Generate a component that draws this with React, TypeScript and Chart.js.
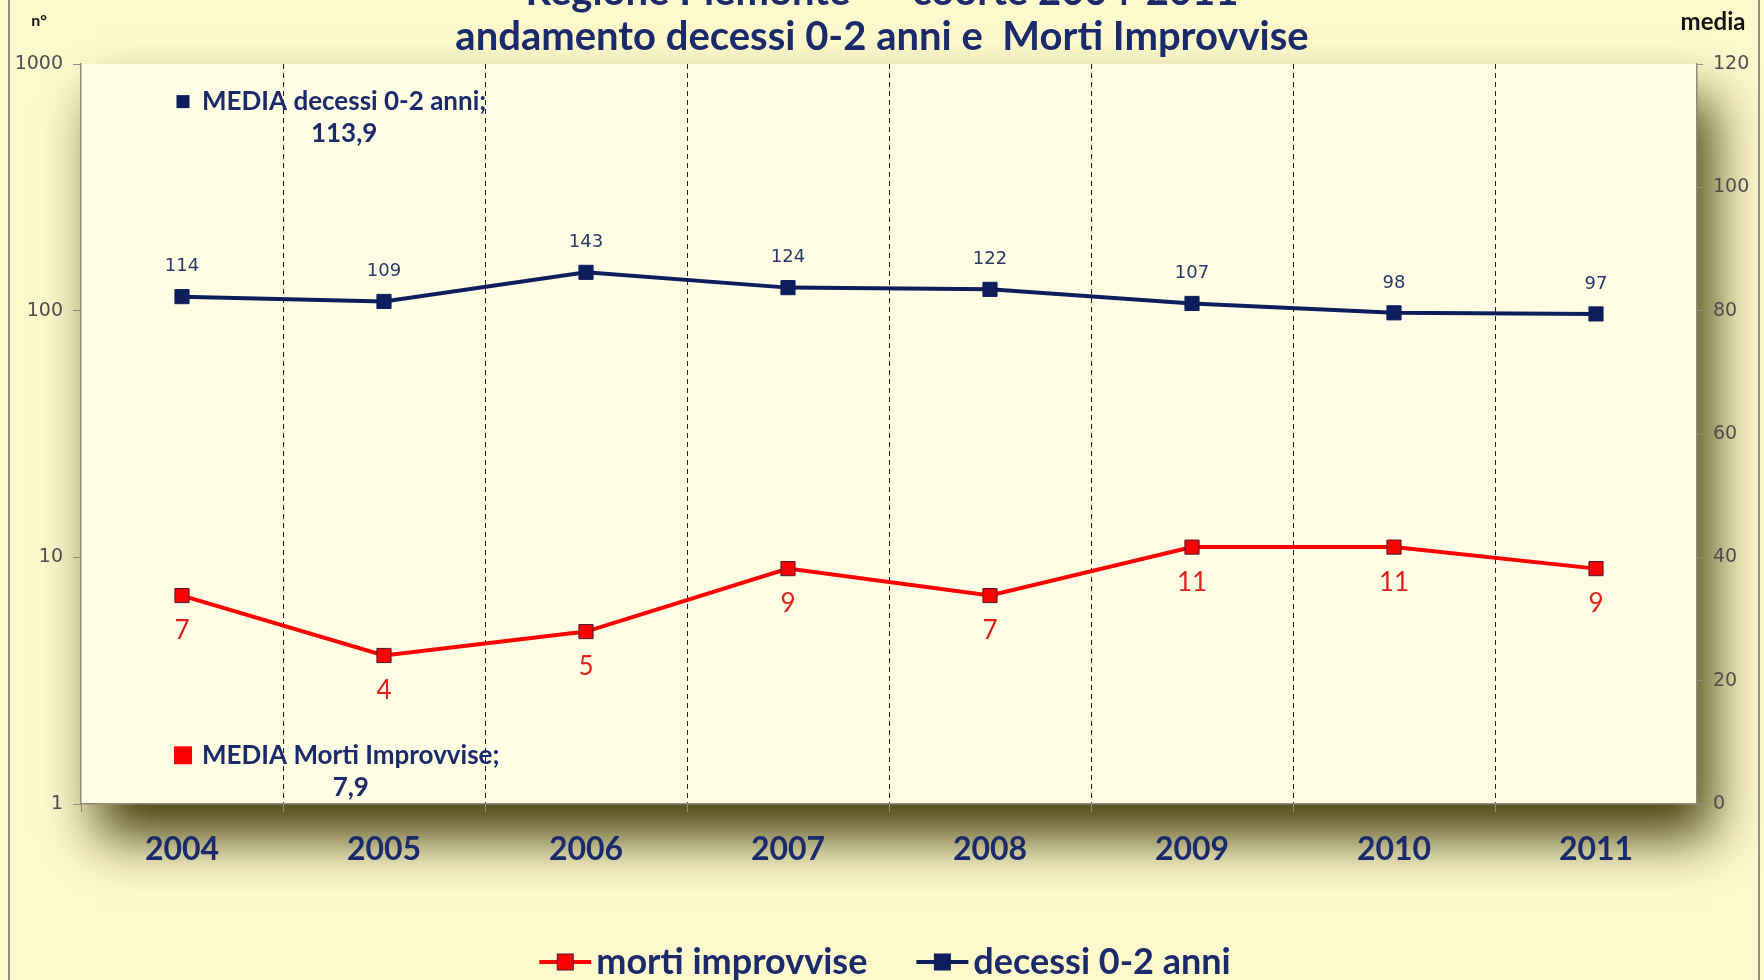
import React, { useEffect, useRef } from 'react';
import { Chart, registerables } from 'chart.js';

Chart.register(...registerables);

// ---------- data ----------
const YEARS = ['2004', '2005', '2006', '2007', '2008', '2009', '2010', '2011'];
const MORTI_IMPROVVISE = [7, 4, 5, 9, 7, 11, 11, 9];
const DECESSI_0_2 = [114, 109, 143, 124, 122, 107, 98, 97];
const MEDIA_DECESSI = [113.9];
const MEDIA_MORTI = [7.9];
const LEFT_TICKS = [1, 10, 100, 1000];
const RIGHT_MIN = 0;
const RIGHT_MAX = 120;
const RIGHT_STEP = 20;
const TITLE_LINES = ['Regione Piemonte  \u2013  coorte 2004-2011', 'andamento decessi 0-2 anni e  Morti Improvvise'];
const LABEL_MORTI = 'morti improvvise';
const LABEL_DECESSI = 'decessi 0-2 anni';
const LABEL_MEDIA_DECESSI = 'MEDIA decessi 0-2 anni;';
const LABEL_MEDIA_MORTI = 'MEDIA Morti Improvvise;';
const LEFT_AXIS_TITLE = 'n\u00b0';
const RIGHT_AXIS_TITLE = 'media';

// ---------- style ----------
const W = 1764;
const H = 980;
const NAVY = '#0D1E5C';
const TEXT_NAVY = '#1A2A6A';
const RED = '#FF0000';
const BG_OUTER = '#FEF9CD';
const BG_PLOT = '#FFFEE4';
const AXIS_GRAY = '#8E8C7A';
const TICK_GRAY = '#4E4E4E';
const FONT = 'Lato, "Open Sans", sans-serif';

function fmtIt(v: number): string {
  return String(v).replace('.', ',');
}

export default function App() {
  const ref = useRef<HTMLCanvasElement>(null);

  useEffect(() => {
    const canvas = ref.current;
    if (!canvas) return;

    const backgroundPlugin = {
      id: 'backgroundPlugin',
      beforeDraw(chart: any) {
        const { ctx, chartArea: a } = chart;
        ctx.save();
        ctx.fillStyle = BG_OUTER;
        ctx.fillRect(0, 0, chart.width, chart.height);
        // soft shadow of plot area
        ctx.shadowColor = 'rgba(72,66,18,1)';
        ctx.shadowBlur = 50;
        ctx.shadowOffsetX = 16;
        ctx.shadowOffsetY = 34;
        ctx.fillStyle = BG_PLOT;
        ctx.fillRect(a.left, a.top, a.right - a.left, a.bottom - a.top);
        ctx.restore();

        ctx.save();
        ctx.fillStyle = BG_PLOT;
        ctx.fillRect(a.left, a.top, a.right - a.left, a.bottom - a.top);
        // outer frame lines
        ctx.strokeStyle = '#8F8E86';
        ctx.lineWidth = 2;
        ctx.beginPath();
        ctx.moveTo(9, 0);
        ctx.lineTo(9, H);
        ctx.moveTo(W - 5, 0);
        ctx.lineTo(W - 5, H);
        ctx.stroke();

        // title
        ctx.fillStyle = TEXT_NAVY;
        ctx.textAlign = 'center';
        ctx.textBaseline = 'middle';
        ctx.font = `bold 40px ${FONT}`;
        const cx = W / 2;
        ctx.fillText(TITLE_LINES[0], cx, -8);
        ctx.fillText(TITLE_LINES[1], cx, 37);

        // axis titles
        ctx.fillStyle = '#111';
        ctx.font = `bold 16px ${FONT}`;
        ctx.fillText(LEFT_AXIS_TITLE, 39, 21);
        ctx.font = `bold 24px ${FONT}`;
        ctx.fillText(RIGHT_AXIS_TITLE, 1713, 22);
        ctx.restore();
      },
    };

    const labelPlugin = {
      id: 'labelPlugin',
      afterDatasetsDraw(chart: any) {
        const { ctx } = chart;
        const ds = chart.data.datasets;
        ctx.save();
        ctx.textAlign = 'center';
        ctx.textBaseline = 'middle';

        // morti improvvise labels (below)
        const m0 = chart.getDatasetMeta(0);
        ctx.font = `26px ${FONT}`;
        ctx.fillStyle = '#E11F1C';
        m0.data.forEach((pt: any, i: number) => {
          ctx.fillText(String(ds[0].data[i]), pt.x, pt.y + 35);
        });

        // decessi labels (above)
        const m1 = chart.getDatasetMeta(1);
        ctx.font = '18px "DejaVu Sans"';
        ctx.fillStyle = '#283868';
        m1.data.forEach((pt: any, i: number) => {
          ctx.fillText(String(ds[1].data[i]), pt.x, pt.y - 30);
        });

        // media labels
        const drawMedia = (metaIndex: number, keyColor: string, keySize: number) => {
          const meta = chart.getDatasetMeta(metaIndex);
          const pt = meta.data[0];
          const value = ds[metaIndex].data[0];
          const text = ds[metaIndex].label;
          ctx.font = `bold 26px ${FONT}`;
          const tw = ctx.measureText(text).width;
          const left = pt.x + 20;
          ctx.fillStyle = keyColor;
          ctx.fillRect(pt.x - keySize / 2 + 1, pt.y - keySize / 2, keySize, keySize);
          ctx.fillStyle = TEXT_NAVY;
          ctx.textAlign = 'left';
          ctx.fillText(text, left, pt.y);
          ctx.textAlign = 'center';
          ctx.fillText(fmtIt(value), left + tw / 2, pt.y + 32);
        };
        drawMedia(2, NAVY, 13);
        drawMedia(3, RED, 18);
        ctx.restore();
      },
    };

    const legendPlugin = {
      id: 'customLegend',
      afterDraw(chart: any) {
        const { ctx } = chart;
        const items = [0, 1].map((i) => chart.data.datasets[i]);
        const markerW = 52;
        const gapText = 5;
        const gapItems = 49;
        ctx.save();
        ctx.font = `bold 36px ${FONT}`;
        const widths = items.map((d: any) => markerW + gapText + ctx.measureText(d.label).width);
        const total = widths.reduce((s: number, v: number) => s + v, 0) + gapItems;
        let x = W / 2 - total / 2 + 3;
        const y = 962;
        items.forEach((d: any, i: number) => {
          ctx.strokeStyle = d.borderColor;
          ctx.lineWidth = 4;
          ctx.beginPath();
          ctx.moveTo(x, y);
          ctx.lineTo(x + markerW, y);
          ctx.stroke();
          ctx.fillStyle = d.pointBackgroundColor;
          ctx.fillRect(x + markerW / 2 - 8, y - 8, 16, 16);
          ctx.strokeStyle = d.pointBorderColor;
          ctx.lineWidth = 1;
          ctx.strokeRect(x + markerW / 2 - 8, y - 8, 16, 16);
          ctx.fillStyle = TEXT_NAVY;
          ctx.textAlign = 'left';
          ctx.textBaseline = 'middle';
          ctx.fillText(d.label, x + markerW + gapText, y);
          x += widths[i] + gapItems;
        });
        ctx.restore();
      },
    };

    const chart = new Chart(canvas, {
      type: 'line',
      data: {
        labels: YEARS,
        datasets: [
          {
            label: LABEL_MORTI,
            data: MORTI_IMPROVVISE,
            yAxisID: 'y',
            borderColor: RED,
            borderWidth: 4,
            pointStyle: 'rect',
            pointRadius: 10,
            pointBackgroundColor: RED,
            pointBorderColor: '#4A1830',
            pointBorderWidth: 1,
            tension: 0,
          },
          {
            label: LABEL_DECESSI,
            data: DECESSI_0_2,
            yAxisID: 'y',
            borderColor: NAVY,
            borderWidth: 4,
            pointStyle: 'rect',
            pointRadius: 10,
            pointBackgroundColor: NAVY,
            pointBorderColor: NAVY,
            pointBorderWidth: 1,
            tension: 0,
          },
          {
            label: LABEL_MEDIA_DECESSI,
            data: MEDIA_DECESSI,
            yAxisID: 'y2',
            showLine: false,
            pointRadius: 0,
            borderColor: NAVY,
            backgroundColor: NAVY,
          },
          {
            label: LABEL_MEDIA_MORTI,
            data: MEDIA_MORTI,
            yAxisID: 'y2',
            showLine: false,
            pointRadius: 0,
            borderColor: RED,
            backgroundColor: RED,
          },
        ],
      },
      options: {
        responsive: false,
        animation: false,
        devicePixelRatio: 1,
        layout: { padding: { top: 64, left: 0, right: 0, bottom: 0 } },
        plugins: {
          legend: { display: false },
          title: { display: false },
          tooltip: { enabled: false },
        },
        scales: {
          x: {
            type: 'category',
            offset: true,
            grid: {
              offset: true,
              color: (c: any) => (c.index === undefined || c.index === 0 ? 'rgba(0,0,0,0)' : '#222'),
              lineWidth: 1,
              drawTicks: true,
              tickLength: 8,
              tickColor: AXIS_GRAY,
              tickBorderDash: [],
            },
            border: { display: true, color: AXIS_GRAY, width: 1.5, dash: [5, 4] },
            ticks: {
              font: { family: FONT, size: 32, weight: 'bold' },
              color: TEXT_NAVY,
              padding: 18,
              maxRotation: 0,
            },
            afterFit: (s: any) => {
              s.height = 176;
            },
          },
          y: {
            type: 'logarithmic',
            position: 'left',
            min: 1,
            max: 1000,
            afterBuildTicks: (s: any) => {
              s.ticks = LEFT_TICKS.map((v) => ({ value: v }));
            },
            ticks: {
              font: { family: 'DejaVu Sans', size: 19 },
              color: TICK_GRAY,
              padding: 10,
              callback: (v: any) => String(v),
            },
            grid: { drawOnChartArea: false, tickLength: 8, color: AXIS_GRAY },
            border: { display: true, color: AXIS_GRAY, width: 1.5 },
            afterFit: (s: any) => {
              s.width = 81;
            },
          },
          y2: {
            type: 'linear',
            position: 'right',
            min: RIGHT_MIN,
            max: RIGHT_MAX,
            ticks: {
              stepSize: RIGHT_STEP,
              font: { family: 'DejaVu Sans', size: 19 },
              color: TICK_GRAY,
              padding: 10,
            },
            grid: { drawOnChartArea: false, tickLength: 6, color: AXIS_GRAY },
            border: { display: true, color: AXIS_GRAY, width: 1.5 },
            afterFit: (s: any) => {
              s.width = 67;
            },
          },
        },
      },
      plugins: [backgroundPlugin, labelPlugin, legendPlugin],
    } as any);

    return () => chart.destroy();
  }, []);

  return (
    <div style={{ position: 'fixed', left: 0, top: 0, width: W, height: H }}>
      <canvas ref={ref} width={W} height={H} style={{ display: 'block', width: W, height: H }} />
    </div>
  );
}
